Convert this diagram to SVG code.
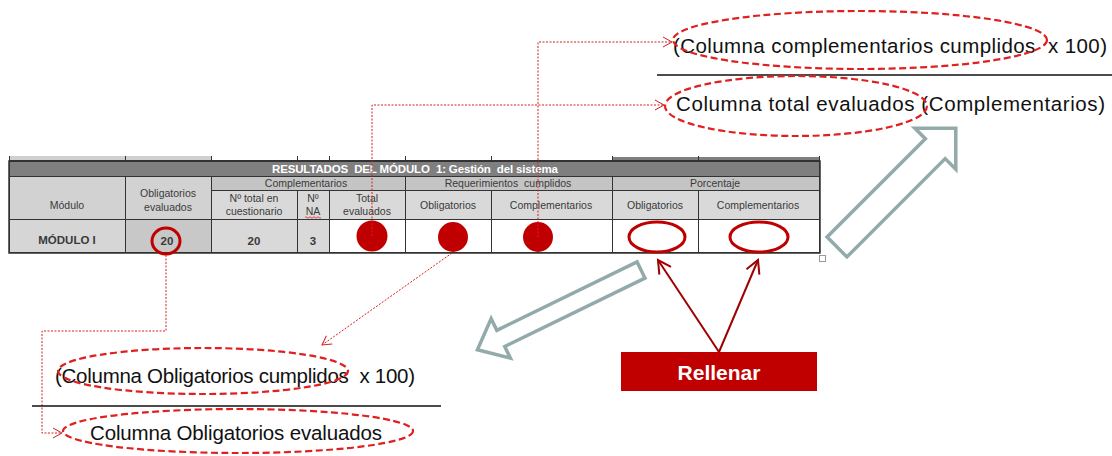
<svg xmlns="http://www.w3.org/2000/svg" width="1112" height="456" viewBox="0 0 1112 456">
<defs>
<style>
.cell{stroke:#333;stroke-width:1}
.th{font-family:"Liberation Sans",Arial,sans-serif;font-size:10.5px;fill:#3a3a3a;text-anchor:middle;white-space:pre}
.td{font-family:"Liberation Sans",Arial,sans-serif;font-size:11.5px;font-weight:bold;fill:#3a3a3a;text-anchor:middle}
.big{font-family:"Liberation Sans",Arial,sans-serif;font-size:20.5px;fill:#111;white-space:pre}
.conn{fill:none;stroke:#d42020;stroke-width:1;stroke-dasharray:2 1.5}
.dash{fill:none;stroke:#e02020;stroke-width:2.2;stroke-dasharray:7 3.5}
.hollow{fill:none;stroke:#93aaaa;stroke-width:3.5;stroke-linejoin:miter}
.dot{fill:#c00000}
.ring{fill:none;stroke:#c00000;stroke-width:3}
</style>
<marker id="openR" markerWidth="12" markerHeight="12" refX="10" refY="6" orient="auto" markerUnits="userSpaceOnUse">
<path d="M1,1 L10,6 L1,11" fill="none" stroke="#d42020" stroke-width="1"/>
</marker>
<marker id="openD" markerWidth="16" markerHeight="16" refX="14" refY="8" orient="auto" markerUnits="userSpaceOnUse">
<path d="M1,1 L14,8 L1,15" fill="none" stroke="#a00000" stroke-width="2"/>
</marker>
</defs>
<rect width="1112" height="456" fill="#fff"/>

<g id="table">
<rect x="9" y="156" width="202" height="4" fill="#d0d0d0"/>
<rect x="612" y="157" width="207" height="3" fill="#7f7f7f"/>
<path d="M9,160.5 H819 M9.5,156 V161 M125.5,156 V161 M211.5,156 V161 M297.5,156 V161 M329.5,156 V161 M405.5,156 V161 M491.5,156 V161 M612.5,156 V161 M698.5,156 V161 M819.5,156 V161" stroke="#333" stroke-width="1"/>
<rect class="cell" x="9.5" y="161.5" width="810" height="15" fill="#7f7f7f"/>
<text x="415" y="173" font-family="'Liberation Sans',Arial,sans-serif" font-size="11.5" font-weight="bold" fill="#fff" text-anchor="middle" textLength="286" style="white-space:pre">RESULTADOS  DEL MÓDULO  1: Gestión  del sistema</text>
<rect class="cell" x="9.5" y="176.5" width="116" height="43" fill="#d2d2d2"/>
<rect class="cell" x="125.5" y="176.5" width="86" height="43" fill="#d2d2d2"/>
<rect class="cell" x="211.5" y="176.5" width="194" height="14" fill="#c4c4c4"/>
<rect class="cell" x="405.5" y="176.5" width="207" height="14" fill="#c4c4c4"/>
<rect class="cell" x="612.5" y="176.5" width="207" height="14" fill="#c4c4c4"/>
<rect class="cell" x="211.5" y="190.5" width="86" height="29" fill="#d9d9d9"/>
<rect class="cell" x="297.5" y="190.5" width="32" height="29" fill="#d9d9d9"/>
<rect class="cell" x="329.5" y="190.5" width="76" height="29" fill="#d9d9d9"/>
<rect class="cell" x="405.5" y="190.5" width="86" height="29" fill="#d9d9d9"/>
<rect class="cell" x="491.5" y="190.5" width="121" height="29" fill="#d9d9d9"/>
<rect class="cell" x="612.5" y="190.5" width="86" height="29" fill="#d9d9d9"/>
<rect class="cell" x="698.5" y="190.5" width="121" height="29" fill="#d9d9d9"/>
<rect class="cell" x="9.5" y="219.5" width="116" height="33" fill="#d6d6d6"/>
<rect class="cell" x="125.5" y="219.5" width="86" height="33" fill="#c8c8c8"/>
<rect class="cell" x="211.5" y="219.5" width="86" height="33" fill="#d9d9d9"/>
<rect class="cell" x="297.5" y="219.5" width="32" height="33" fill="#d9d9d9"/>
<rect class="cell" x="329.5" y="219.5" width="76" height="33" fill="#fff"/>
<rect class="cell" x="405.5" y="219.5" width="86" height="33" fill="#fff"/>
<rect class="cell" x="491.5" y="219.5" width="121" height="33" fill="#fff"/>
<rect class="cell" x="612.5" y="219.5" width="86" height="33" fill="#fff"/>
<rect class="cell" x="698.5" y="219.5" width="121" height="33" fill="#fff"/>
<rect x="9" y="161" width="811" height="92" fill="none" stroke="#333" stroke-width="1.5"/>
<text class="th" x="67" y="209">Módulo</text>
<text class="th" x="168" y="197">Obligatorios</text>
<text class="th" x="168" y="211">evaluados</text>
<text class="th" x="306" y="187">Complementarios</text>
<text class="th" x="508" y="187">Requerimientos  cumplidos</text>
<text class="th" x="715" y="187">Porcentaje</text>
<text class="th" x="254" y="202">Nº total en</text>
<text class="th" x="254" y="215">cuestionario</text>
<text class="th" x="313" y="202">Nº</text>
<text class="th" x="313" y="215">NA</text>
<path d="M305,217.5 q1,-1.5 2,0 t2,0 t2,0 t2,0 t2,0 t2,0 t2,0 t2,0" fill="none" stroke="#e02020" stroke-width="0.8"/>
<text class="th" x="367" y="202">Total</text>
<text class="th" x="367" y="215">evaluados</text>
<text class="th" x="448" y="209">Obligatorios</text>
<text class="th" x="551" y="209">Complementarios</text>
<text class="th" x="655" y="209">Obligatorios</text>
<text class="th" x="758" y="209">Complementarios</text>
<text class="td" x="67" y="244">MÓDULO I</text>
<text class="td" x="167" y="245">20</text>
<text class="td" x="254" y="245">20</text>
<text class="td" x="313" y="245">3</text>
<rect x="819.5" y="255.5" width="6" height="6" fill="#fff" stroke="#999" stroke-width="1"/>
</g>

<g id="marks">
<ellipse class="ring" cx="166" cy="241" rx="14" ry="13" stroke-width="2.6"/>
<circle class="dot" cx="372" cy="236" r="15.5"/>
<circle class="dot" cx="453" cy="237" r="15"/>
<circle class="dot" cx="538" cy="237" r="15"/>
<ellipse class="ring" cx="657" cy="237" rx="28" ry="15"/>
<ellipse class="ring" cx="759" cy="237" rx="29" ry="15"/>
</g>

<g id="connectors">
<path class="conn" d="M166,255 V331 H42 V433 H62" marker-end="url(#openR)"/>
<path class="conn" d="M452,253 L322,345" marker-end="url(#openR)"/>
<path class="conn" d="M372,236 V105 H664" marker-end="url(#openR)"/>
<path class="conn" d="M538,237 V42 H672" marker-end="url(#openR)"/>
<path d="M719,352 L658,260" fill="none" stroke="#a00000" stroke-width="2" marker-end="url(#openD)"/>
<path d="M719,352 L758,260" fill="none" stroke="#a00000" stroke-width="2" marker-end="url(#openD)"/>
</g>

<g id="arrow-down-left">
<polygon class="hollow" transform="translate(641,270) rotate(154)" points="0,-9 156,-9 156,-22 182,0 156,22 156,9 0,9"/>
</g>
<g id="arrow-up-right">
<polygon class="hollow" transform="translate(837,247) rotate(-45)" points="0,-14 139,-14 139,-29 168,0 139,29 139,14 0,14"/>
</g>

<g id="formula-complementarios">
<text class="big" x="673" y="53" textLength="434">(Columna complementarios cumplidos  x 100)</text>
<ellipse class="dash" cx="860" cy="40" rx="187" ry="29"/>
<line x1="657" y1="75" x2="1112" y2="75" stroke="#111" stroke-width="1.5"/>
<text class="big" x="676" y="111" textLength="429">Columna total evaluados (Complementarios)</text>
<ellipse class="dash" cx="796" cy="106" rx="131" ry="30"/>
</g>

<g id="formula-obligatorios">
<text class="big" x="55" y="383" textLength="360">(Columna Obligatorios cumplidos  x 100)</text>
<ellipse class="dash" cx="203" cy="371" rx="145" ry="23"/>
<line x1="32" y1="406" x2="441" y2="406" stroke="#111" stroke-width="1.5"/>
<text class="big" x="90" y="440" textLength="292">Columna Obligatorios evaluados</text>
<ellipse class="dash" cx="238" cy="431" rx="175" ry="22"/>
</g>

<g id="rellenar">
<rect x="621" y="352" width="196" height="39" fill="#c00000"/>
<text x="719" y="380" font-family="'Liberation Sans',Arial,sans-serif" font-size="21" font-weight="bold" fill="#fff" text-anchor="middle">Rellenar</text>
</g>
</svg>
